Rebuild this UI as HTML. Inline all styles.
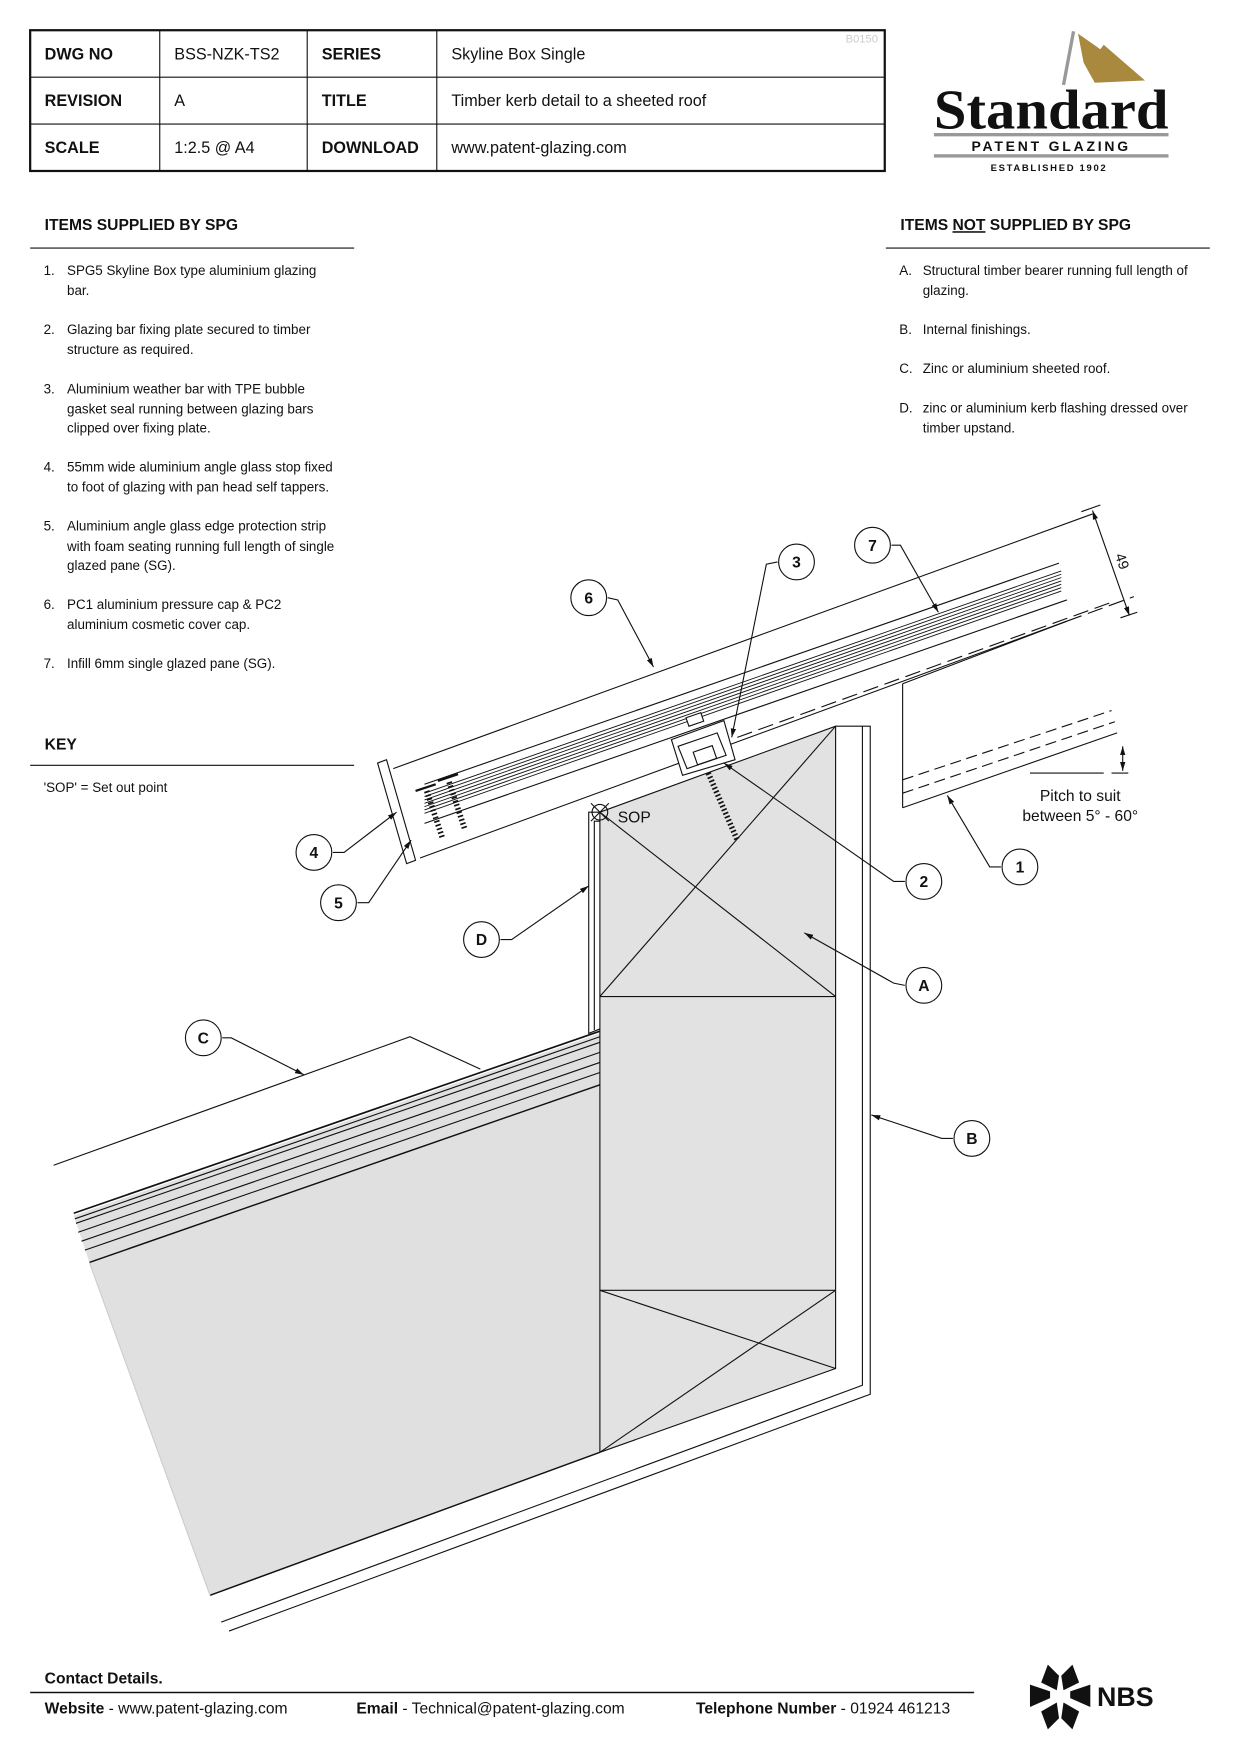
<!DOCTYPE html>
<html><head><meta charset="utf-8"><style>
html,body{margin:0;padding:0;background:#fff}
svg{display:block}
text{font-family:"Liberation Sans",Arial,sans-serif;fill:#111}
.b{font-weight:bold}
.it{font-size:12px}
</style></head><body>
<svg width="1240" height="1754" viewBox="0 0 1110 1570" xmlns="http://www.w3.org/2000/svg">
<defs><marker id="ar" viewBox="0 0 10 10" refX="10" refY="5" markerWidth="8" markerHeight="8" orient="auto-start-reverse"><path d="M0,2 L10,5 L0,8z" fill="#111"/></marker></defs>
<g stroke="#111" fill="none">
<rect x="27" y="27" width="765" height="126" stroke-width="2"/>
<line x1="27" y1="69" x2="792" y2="69"/><line x1="27" y1="111" x2="792" y2="111"/>
<line x1="143" y1="27" x2="143" y2="153"/><line x1="275" y1="27" x2="275" y2="153"/><line x1="391" y1="27" x2="391" y2="153"/>
</g>
<g font-size="14.5">
<text x="40" y="53" class="b">DWG NO</text><text x="156" y="53">BSS-NZK-TS2</text><text x="288" y="53" class="b">SERIES</text><text x="404" y="53">Skyline Box Single</text>
<text x="40" y="95" class="b">REVISION</text><text x="156" y="95">A</text><text x="288" y="95" class="b">TITLE</text><text x="404" y="95">Timber kerb detail to a sheeted roof</text>
<text x="40" y="137" class="b">SCALE</text><text x="156" y="137">1:2.5 @ A4</text><text x="288" y="137" class="b">DOWNLOAD</text><text x="404" y="137">www.patent-glazing.com</text>
</g>
<text x="757" y="38" font-size="10" style="fill:#ccc">B0150</text>
<line x1="961" y1="28" x2="952" y2="76" stroke="#999" stroke-width="3"/>
<path d="M965,30 L985,44 L988,40 L1025,72 L980,74 L970,56z" fill="#a8893e"/>
<text x="836" y="115" font-size="50" textLength="210" lengthAdjust="spacingAndGlyphs" style="font-family:'Liberation Serif',serif;font-weight:bold;fill:#111">Standard</text>
<rect x="836" y="119" width="210" height="3" fill="#999"/>
<text x="941" y="135" font-size="12.5" text-anchor="middle" class="b" letter-spacing="2.5">PATENT GLAZING</text>
<rect x="836" y="138" width="210" height="3" fill="#999"/>
<text x="939" y="153" font-size="8.5" text-anchor="middle" class="b" letter-spacing="1.5">ESTABLISHED 1902</text>
<text x="40" y="206" font-size="14" class="b">ITEMS SUPPLIED BY SPG</text>
<line x1="27" y1="222" x2="317" y2="222" stroke="#111"/>
<text x="806" y="206" font-size="14" class="b">ITEMS <tspan text-decoration="underline">NOT</tspan> SUPPLIED BY SPG</text>
<line x1="793" y1="222" x2="1083" y2="222" stroke="#111"/>
<g class="it">
<text x="39" y="246">1.</text><text x="60" y="246">SPG5 Skyline Box type aluminium glazing</text><text x="60" y="264">bar.</text>
<text x="39" y="299">2.</text><text x="60" y="299">Glazing bar fixing plate secured to timber</text><text x="60" y="317">structure as required.</text>
<text x="39" y="352">3.</text><text x="60" y="352">Aluminium weather bar with TPE bubble</text><text x="60" y="370">gasket seal running between glazing bars</text><text x="60" y="387">clipped over fixing plate.</text>
<text x="39" y="422">4.</text><text x="60" y="422">55mm wide aluminium angle glass stop fixed</text><text x="60" y="440">to foot of glazing with pan head self tappers.</text>
<text x="39" y="475">5.</text><text x="60" y="475">Aluminium angle glass edge protection strip</text><text x="60" y="493">with foam seating running full length of single</text><text x="60" y="510">glazed pane (SG).</text>
<text x="39" y="545">6.</text><text x="60" y="545">PC1 aluminium pressure cap &amp; PC2</text><text x="60" y="563">aluminium cosmetic cover cap.</text>
<text x="39" y="598">7.</text><text x="60" y="598">Infill 6mm single glazed pane (SG).</text>
<text x="805" y="246">A.</text><text x="826" y="246">Structural timber bearer running full length of</text><text x="826" y="264">glazing.</text>
<text x="805" y="299">B.</text><text x="826" y="299">Internal finishings.</text>
<text x="805" y="334">C.</text><text x="826" y="334">Zinc or aluminium sheeted roof.</text>
<text x="805" y="369">D.</text><text x="826" y="369">zinc or aluminium kerb flashing dressed over</text><text x="826" y="387">timber upstand.</text>
<text x="39" y="709">'SOP' = Set out point</text>
</g>
<text x="40" y="671" font-size="14" class="b">KEY</text>
<line x1="27" y1="685" x2="317" y2="685" stroke="#111"/>
<g stroke="#111" fill="none" stroke-width="1">
<path d="M66,1088 L537,925 L537,1300 L188,1428 L80,1130z" fill="#e0e0e0" stroke="none"/>
<line x1="66" y1="1086" x2="537" y2="923" stroke-width="1.5"/>
<line x1="67" y1="1091" x2="537" y2="928"/>
<line x1="68" y1="1095" x2="537" y2="933"/>
<line x1="70" y1="1103" x2="537" y2="942"/>
<line x1="73" y1="1111" x2="537" y2="951"/>
<line x1="76" y1="1119" x2="537" y2="960"/>
<line x1="80" y1="1130" x2="537" y2="971" stroke-width="1.3"/>
<line x1="188" y1="1428" x2="537" y2="1300" stroke-width="1.3"/>
<line x1="80" y1="1130" x2="188" y2="1428" stroke="#ccc"/>
<polyline points="48,1043 367,928 430,957"/>
<path d="M537,727 L748,650 L748,1225 L537,1300z" fill="#e2e2e2"/>
<line x1="537" y1="892" x2="748" y2="892"/><line x1="537" y1="1155" x2="748" y2="1155"/>
<line x1="537" y1="727" x2="748" y2="892"/><line x1="537" y1="892" x2="748" y2="650"/>
<line x1="537" y1="1155" x2="748" y2="1225"/><line x1="537" y1="1300" x2="748" y2="1155"/>
<polyline points="748,650 772,650 772,1240 198,1452"/>
<polyline points="772,650 779,650 779,1248 205,1460"/>
<polyline points="537,727 527,727 527,925 537,921"/>
<polyline points="537,735 532,735 532,922"/>
<line x1="352" y1="688" x2="978" y2="460"/>
<line x1="376" y1="768" x2="955" y2="556"/>
<line x1="955" y1="556" x2="1015" y2="534" stroke-dasharray="14,6"/>
<polygon points="338,683 346,680 372,770 364,773" fill="#fff"/>
<line x1="380" y1="702" x2="948" y2="504"/>
<g stroke-width="0.8">
<line x1="380" y1="710" x2="950" y2="511"/><line x1="380" y1="713" x2="950" y2="514"/><line x1="380" y1="716" x2="950" y2="517"/>
<line x1="380" y1="719" x2="950" y2="520"/><line x1="380" y1="722" x2="950" y2="523"/><line x1="380" y1="725" x2="950" y2="526"/>
<line x1="380" y1="728" x2="950" y2="529"/>
</g>
<line x1="380" y1="737" x2="955" y2="537"/>
<line x1="660" y1="660" x2="998" y2="538" stroke-dasharray="14,6"/>
<polygon points="601,662 648,645 658,680 611,694" fill="#fff"/>
<polygon points="607,668 642,656 650,676 615,688"/>
<rect x="615" y="640" width="14" height="8" transform="rotate(-19 622 644)" fill="#fff"/>
<rect x="622" y="670" width="18" height="12" transform="rotate(-19 631 676)"/>
<g stroke-width="5" stroke-dasharray="1.5,2">
<line x1="634" y1="692" x2="660" y2="752"/>
<line x1="382" y1="708" x2="396" y2="750"/>
<line x1="402" y1="700" x2="416" y2="742"/>
</g>
<line x1="372" y1="708" x2="390" y2="702" stroke-width="2"/><line x1="392" y1="699" x2="410" y2="693" stroke-width="2"/>
<line x1="808" y1="612" x2="808" y2="723"/>
<line x1="808" y1="612" x2="955" y2="556"/>
<line x1="808" y1="723" x2="1000" y2="656"/>
<line x1="808" y1="698" x2="995" y2="636" stroke-dasharray="10,5"/>
<line x1="808" y1="710" x2="998" y2="646" stroke-dasharray="10,5"/>
<line x1="922" y1="692" x2="988" y2="692"/><line x1="995" y1="692" x2="1010" y2="692"/>
<line x1="1005" y1="668" x2="1005" y2="690" marker-start="url(#ar)" marker-end="url(#ar)"/>
<line x1="968" y1="458" x2="985" y2="452"/><line x1="1003" y1="553" x2="1018" y2="548"/>
<line x1="978" y1="457" x2="1011" y2="551" marker-start="url(#ar)" marker-end="url(#ar)"/>
<circle cx="537" cy="727" r="7"/><line x1="529" y1="719" x2="545" y2="735"/><line x1="529" y1="735" x2="545" y2="719"/>
<polyline points="544,535 553,537 585,597" marker-end="url(#ar)"/>
<polyline points="798,488 806,488 840,548" marker-end="url(#ar)"/>
<polyline points="696,503 686,505 655,660" marker-end="url(#ar)"/>
<polyline points="810,789 800,789 648,683" marker-end="url(#ar)"/>
<polyline points="896,776 886,776 848,712" marker-end="url(#ar)"/>
<polyline points="810,882 800,880 720,835" marker-end="url(#ar)"/>
<polyline points="853,1019 843,1019 780,998" marker-end="url(#ar)"/>
<polyline points="199,929 207,929 272,962" marker-end="url(#ar)"/>
<polyline points="448,841 458,841 527,793" marker-end="url(#ar)"/>
<polyline points="298,763 308,763 355,727" marker-end="url(#ar)"/>
<polyline points="320,808 330,808 368,752" marker-end="url(#ar)"/>
<g fill="#fff">
<circle cx="913" cy="776" r="16"/><circle cx="827" cy="789" r="16"/><circle cx="713" cy="503" r="16"/><circle cx="281" cy="763" r="16"/>
<circle cx="303" cy="808" r="16"/><circle cx="527" cy="535" r="16"/><circle cx="781" cy="488" r="16"/><circle cx="827" cy="882" r="16"/>
<circle cx="870" cy="1019" r="16"/><circle cx="182" cy="929" r="16"/><circle cx="431" cy="841" r="16"/>
</g>
</g>
<g font-size="14" class="b" text-anchor="middle">
<text x="913" y="781">1</text><text x="827" y="794">2</text><text x="713" y="508">3</text><text x="281" y="768">4</text>
<text x="303" y="813">5</text><text x="527" y="540">6</text><text x="781" y="493">7</text><text x="827" y="887">A</text>
<text x="870" y="1024">B</text><text x="182" y="934">C</text><text x="431" y="846">D</text>
</g>
<text x="553" y="736" font-size="14">SOP</text>
<text x="967" y="717" font-size="14" text-anchor="middle">Pitch to suit</text>
<text x="967" y="735" font-size="14" text-anchor="middle">between 5° - 60°</text>
<text x="0" y="0" font-size="13" transform="translate(998,497) rotate(71)">49</text>
<text x="40" y="1507" font-size="14" class="b">Contact Details.</text>
<line x1="27" y1="1515" x2="872" y2="1515" stroke="#111" stroke-width="1.3"/>
<text x="40" y="1534" font-size="14"><tspan class="b">Website</tspan>  -  www.patent-glazing.com</text>
<text x="319" y="1534" font-size="14"><tspan class="b">Email</tspan>  -  Technical@patent-glazing.com</text>
<text x="623" y="1534" font-size="14"><tspan class="b">Telephone Number</tspan>  -  01924 461213</text>
<g fill="#111">
<path d="M938,1490 L948,1500 L946,1513 L932,1506z"/><path d="M960,1490 L950,1500 L952,1513 L966,1506z"/>
<path d="M922,1508 L940,1514 L940,1520 L922,1528z"/><path d="M976,1508 L958,1514 L958,1520 L976,1528z"/>
<path d="M932,1532 L946,1524 L948,1538 L938,1548z"/><path d="M966,1532 L952,1524 L950,1538 L960,1548z"/>
</g>
<text x="982" y="1527" font-size="24" class="b">NBS</text>
</svg>
</body></html>
